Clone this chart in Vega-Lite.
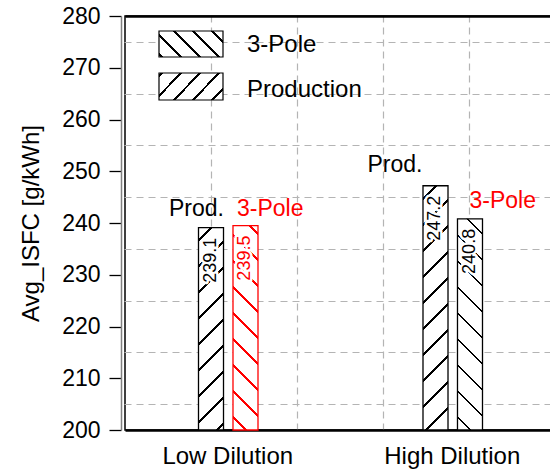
{
  "$schema": "https://vega.github.io/schema/vega-lite/v6.json",
  "width": 426,
  "height": 414,
  "autosize": {"type": "none"},
  "padding": {"left": 125, "top": 16, "right": 0, "bottom": 42},
  "config": {
    "view": {"stroke": "black", "strokeWidth": 1.5},
    "font": "Liberation Sans"
  },
  "data": {
    "values": [
      {"cat": "Low Dilution", "series": "Production", "value": 239.1},
      {"cat": "Low Dilution", "series": "3-Pole", "value": 239.5},
      {"cat": "High Dilution", "series": "Production", "value": 247.2},
      {"cat": "High Dilution", "series": "3-Pole", "value": 240.8}
    ]
  },
  "layer": [
    {
      "layer": [
        {
          "mark": {"type": "point", "opacity": 0},
          "encoding": {
            "x": {
              "field": "value",
              "type": "quantitative",
              "title": null,
              "scale": {"domain": [0, 5], "range": [0, 430], "nice": false, "zero": false},
              "axis": {
                "orient": "top",
                "values": [1, 2, 3, 4],
                "grid": true,
                "gridDash": [7, 5],
                "gridColor": "#b4b4b4",
                "gridWidth": 1.2,
                "labels": false,
                "ticks": false,
                "domain": true,
                "domainColor": "black",
                "domainWidth": 2.5,
                "title": null
              }
            },
            "y": {
              "field": "value",
              "type": "quantitative",
              "title": null,
              "scale": {"domain": [200, 280], "nice": false, "zero": false},
              "axis": {
                "orient": "right",
                "values": [205, 210, 215, 220, 225, 230, 235, 240, 245, 250, 255, 260, 265, 270, 275],
                "grid": true,
                "gridDash": [7, 5],
                "gridColor": "#b4b4b4",
                "gridWidth": 1.2,
                "labels": false,
                "ticks": false,
                "domain": false,
                "title": null
              }
            }
          }
        },
        {
          "transform": [{"filter": "datum.cat === 'Low Dilution' && datum.series === '3-Pole'"}],
          "mark": {"type": "rect", "stroke": "black", "strokeWidth": 1.2,
            "fill": {"gradient": "linear", "x1": 0, "y1": 1, "x2": 1.207, "y2": 0.5096, "stops": [{"offset":0,"color":"white"},{"offset":0.0178,"color":"white"},{"offset":0.0178,"color":"black"},{"offset":0.0489,"color":"black"},{"offset":0.0489,"color":"white"},{"offset":0.2289,"color":"white"},{"offset":0.2289,"color":"black"},{"offset":0.26,"color":"black"},{"offset":0.26,"color":"white"},{"offset":0.44,"color":"white"},{"offset":0.44,"color":"black"},{"offset":0.4711,"color":"black"},{"offset":0.4711,"color":"white"},{"offset":0.6511,"color":"white"},{"offset":0.6511,"color":"black"},{"offset":0.6822,"color":"black"},{"offset":0.6822,"color":"white"},{"offset":0.8622,"color":"white"},{"offset":0.8622,"color":"black"},{"offset":0.8933,"color":"black"},{"offset":0.8933,"color":"white"},{"offset":1,"color":"white"}]}},
          "encoding": {
            "x": {"datum": 0.3953, "title": null},
            "x2": {"datum": 1.1395},
            "y": {"datum": 277.1, "title": null},
            "y2": {"datum": 272.08}
          }
        },
        {
          "transform": [{"filter": "datum.cat === 'Low Dilution' && datum.series === 'Production'"}],
          "mark": {"type": "rect", "stroke": "black", "strokeWidth": 1.2,
            "fill": {"gradient": "linear", "x1": 0, "y1": 0, "x2": 1.207, "y2": 0.4904, "stops": [{"offset":0,"color":"white"},{"offset":0.0178,"color":"white"},{"offset":0.0178,"color":"black"},{"offset":0.0489,"color":"black"},{"offset":0.0489,"color":"white"},{"offset":0.2289,"color":"white"},{"offset":0.2289,"color":"black"},{"offset":0.26,"color":"black"},{"offset":0.26,"color":"white"},{"offset":0.44,"color":"white"},{"offset":0.44,"color":"black"},{"offset":0.4711,"color":"black"},{"offset":0.4711,"color":"white"},{"offset":0.6511,"color":"white"},{"offset":0.6511,"color":"black"},{"offset":0.6822,"color":"black"},{"offset":0.6822,"color":"white"},{"offset":0.8622,"color":"white"},{"offset":0.8622,"color":"black"},{"offset":0.8933,"color":"black"},{"offset":0.8933,"color":"white"},{"offset":1,"color":"white"}]}},
          "encoding": {
            "x": {"datum": 0.3953, "title": null},
            "x2": {"datum": 1.1395},
            "y": {"datum": 268.99, "title": null},
            "y2": {"datum": 263.77}
          }
        },
        {
          "transform": [{"filter": "datum.cat === 'Low Dilution' && datum.series === '3-Pole'"}],
          "mark": {"type": "text", "align": "left", "baseline": "alphabetic", "fontSize": 24, "font": "Liberation Sans", "fill": "black"},
          "encoding": {
            "x": {"datum": 1.4186, "title": null},
            "y": {"datum": 273.04, "title": null},
            "text": {"field": "series"}
          }
        },
        {
          "transform": [{"filter": "datum.cat === 'Low Dilution' && datum.series === 'Production'"}],
          "mark": {"type": "text", "align": "left", "baseline": "alphabetic", "fontSize": 24, "font": "Liberation Sans", "fill": "black"},
          "encoding": {
            "x": {"datum": 1.4186, "title": null},
            "y": {"datum": 264.35, "title": null},
            "text": {"field": "series"}
          }
        }
      ]
    },
    {
      "encoding": {
        "x": {
          "field": "cat",
          "type": "nominal",
          "sort": ["Low Dilution", "High Dilution"],
          "scale": {"domain": ["Low Dilution", "High Dilution"], "range": [0, 430], "paddingInner": 0.0846, "paddingOuter": 0},
          "axis": {
            "orient": "bottom",
            "title": null,
            "ticks": false,
            "grid": false,
            "domainColor": "black",
            "domainWidth": 2.5,
            "labelFont": "Liberation Sans",
            "labelFontSize": 24,
            "labelColor": "black",
            "labelPadding": 14,
            "labelAngle": 0
          }
        },
        "xOffset": {
          "field": "series",
          "type": "nominal",
          "scale": {"domain": ["Production", "3-Pole"], "range": [73.5, 133], "paddingInner": 0.275, "paddingOuter": 0}
        },
        "y": {
          "field": "value",
          "type": "quantitative",
          "stack": null,
          "title": "Avg_ISFC [g/kWh]",
          "scale": {"domain": [200, 280], "nice": false, "zero": false},
          "axis": {
            "orient": "left",
            "values": [200, 210, 220, 230, 240, 250, 260, 270, 280],
            "offset": 4,
            "grid": false,
            "domainColor": "#808080",
            "domainWidth": 1.5,
            "tickSize": 12,
            "tickWidth": 1.3,
            "tickColor": "black",
            "labelFont": "Liberation Sans",
            "labelFontSize": 23,
            "labelColor": "black",
            "labelPadding": 9,
            "labelOverlap": false,
            "labelFlush": false,
            "titleFont": "Liberation Sans",
            "titleFontSize": 24,
            "titleFontWeight": "normal",
            "titleColor": "black",
            "titlePadding": 18
          }
        }
      },
      "layer": [
        {
          "transform": [{"filter": "datum.cat === 'Low Dilution' && datum.series === 'Production'"}],
          "mark": {"type": "bar", "stroke": "black", "strokeWidth": 1.3,
            "fill": {"gradient": "linear", "x1": 0, "y1": 0, "x2": 0.1685, "y2": 1.3633, "stops": [{"offset":0,"color":"white"},{"offset":0.0414,"color":"white"},{"offset":0.0414,"color":"black"},{"offset":0.0514,"color":"black"},{"offset":0.0514,"color":"white"},{"offset":0.1343,"color":"white"},{"offset":0.1343,"color":"black"},{"offset":0.1443,"color":"black"},{"offset":0.1443,"color":"white"},{"offset":0.2271,"color":"white"},{"offset":0.2271,"color":"black"},{"offset":0.2371,"color":"black"},{"offset":0.2371,"color":"white"},{"offset":0.32,"color":"white"},{"offset":0.32,"color":"black"},{"offset":0.33,"color":"black"},{"offset":0.33,"color":"white"},{"offset":0.4129,"color":"white"},{"offset":0.4129,"color":"black"},{"offset":0.4229,"color":"black"},{"offset":0.4229,"color":"white"},{"offset":0.5057,"color":"white"},{"offset":0.5057,"color":"black"},{"offset":0.5157,"color":"black"},{"offset":0.5157,"color":"white"},{"offset":0.5986,"color":"white"},{"offset":0.5986,"color":"black"},{"offset":0.6086,"color":"black"},{"offset":0.6086,"color":"white"},{"offset":0.6914,"color":"white"},{"offset":0.6914,"color":"black"},{"offset":0.7014,"color":"black"},{"offset":0.7014,"color":"white"},{"offset":0.7843,"color":"white"},{"offset":0.7843,"color":"black"},{"offset":0.7943,"color":"black"},{"offset":0.7943,"color":"white"},{"offset":0.8771,"color":"white"},{"offset":0.8771,"color":"black"},{"offset":0.8871,"color":"black"},{"offset":0.8871,"color":"white"},{"offset":0.97,"color":"white"},{"offset":0.97,"color":"black"},{"offset":0.98,"color":"black"},{"offset":0.98,"color":"white"},{"offset":1,"color":"white"}]}},
          "encoding": {"y2": {"datum": 200}}
        },
        {
          "transform": [{"filter": "datum.cat === 'Low Dilution' && datum.series === '3-Pole'"}],
          "mark": {"type": "bar", "stroke": "red", "strokeWidth": 1.3,
            "fill": {"gradient": "linear", "x1": 0, "y1": 1, "x2": 0.1651, "y2": -0.3497, "stops": [{"offset":0,"color":"white"},{"offset":0.0414,"color":"white"},{"offset":0.0414,"color":"red"},{"offset":0.0514,"color":"red"},{"offset":0.0514,"color":"white"},{"offset":0.1343,"color":"white"},{"offset":0.1343,"color":"red"},{"offset":0.1443,"color":"red"},{"offset":0.1443,"color":"white"},{"offset":0.2271,"color":"white"},{"offset":0.2271,"color":"red"},{"offset":0.2371,"color":"red"},{"offset":0.2371,"color":"white"},{"offset":0.32,"color":"white"},{"offset":0.32,"color":"red"},{"offset":0.33,"color":"red"},{"offset":0.33,"color":"white"},{"offset":0.4129,"color":"white"},{"offset":0.4129,"color":"red"},{"offset":0.4229,"color":"red"},{"offset":0.4229,"color":"white"},{"offset":0.5057,"color":"white"},{"offset":0.5057,"color":"red"},{"offset":0.5157,"color":"red"},{"offset":0.5157,"color":"white"},{"offset":0.5986,"color":"white"},{"offset":0.5986,"color":"red"},{"offset":0.6086,"color":"red"},{"offset":0.6086,"color":"white"},{"offset":0.6914,"color":"white"},{"offset":0.6914,"color":"red"},{"offset":0.7014,"color":"red"},{"offset":0.7014,"color":"white"},{"offset":0.7843,"color":"white"},{"offset":0.7843,"color":"red"},{"offset":0.7943,"color":"red"},{"offset":0.7943,"color":"white"},{"offset":0.8771,"color":"white"},{"offset":0.8771,"color":"red"},{"offset":0.8871,"color":"red"},{"offset":0.8871,"color":"white"},{"offset":0.97,"color":"white"},{"offset":0.97,"color":"red"},{"offset":0.98,"color":"red"},{"offset":0.98,"color":"white"},{"offset":1,"color":"white"}]}},
          "encoding": {"y2": {"datum": 200}}
        },
        {
          "transform": [{"filter": "datum.cat === 'High Dilution' && datum.series === 'Production'"}],
          "mark": {"type": "bar", "stroke": "black", "strokeWidth": 1.3,
            "fill": {"gradient": "linear", "x1": 0, "y1": 0, "x2": 0.1161, "y2": 1.1343, "stops": [{"offset":0,"color":"white"},{"offset":0.0414,"color":"white"},{"offset":0.0414,"color":"black"},{"offset":0.0514,"color":"black"},{"offset":0.0514,"color":"white"},{"offset":0.1343,"color":"white"},{"offset":0.1343,"color":"black"},{"offset":0.1443,"color":"black"},{"offset":0.1443,"color":"white"},{"offset":0.2271,"color":"white"},{"offset":0.2271,"color":"black"},{"offset":0.2371,"color":"black"},{"offset":0.2371,"color":"white"},{"offset":0.32,"color":"white"},{"offset":0.32,"color":"black"},{"offset":0.33,"color":"black"},{"offset":0.33,"color":"white"},{"offset":0.4129,"color":"white"},{"offset":0.4129,"color":"black"},{"offset":0.4229,"color":"black"},{"offset":0.4229,"color":"white"},{"offset":0.5057,"color":"white"},{"offset":0.5057,"color":"black"},{"offset":0.5157,"color":"black"},{"offset":0.5157,"color":"white"},{"offset":0.5986,"color":"white"},{"offset":0.5986,"color":"black"},{"offset":0.6086,"color":"black"},{"offset":0.6086,"color":"white"},{"offset":0.6914,"color":"white"},{"offset":0.6914,"color":"black"},{"offset":0.7014,"color":"black"},{"offset":0.7014,"color":"white"},{"offset":0.7843,"color":"white"},{"offset":0.7843,"color":"black"},{"offset":0.7943,"color":"black"},{"offset":0.7943,"color":"white"},{"offset":0.8771,"color":"white"},{"offset":0.8771,"color":"black"},{"offset":0.8871,"color":"black"},{"offset":0.8871,"color":"white"},{"offset":0.97,"color":"white"},{"offset":0.97,"color":"black"},{"offset":0.98,"color":"black"},{"offset":0.98,"color":"white"},{"offset":1,"color":"white"}]}},
          "encoding": {"y2": {"datum": 200}}
        },
        {
          "transform": [{"filter": "datum.cat === 'High Dilution' && datum.series === '3-Pole'"}],
          "mark": {"type": "bar", "stroke": "black", "strokeWidth": 1.3,
            "fill": {"gradient": "linear", "x1": 0, "y1": 1, "x2": 0.1549, "y2": -0.308, "stops": [{"offset":0,"color":"white"},{"offset":0.0414,"color":"white"},{"offset":0.0414,"color":"black"},{"offset":0.0514,"color":"black"},{"offset":0.0514,"color":"white"},{"offset":0.1343,"color":"white"},{"offset":0.1343,"color":"black"},{"offset":0.1443,"color":"black"},{"offset":0.1443,"color":"white"},{"offset":0.2271,"color":"white"},{"offset":0.2271,"color":"black"},{"offset":0.2371,"color":"black"},{"offset":0.2371,"color":"white"},{"offset":0.32,"color":"white"},{"offset":0.32,"color":"black"},{"offset":0.33,"color":"black"},{"offset":0.33,"color":"white"},{"offset":0.4129,"color":"white"},{"offset":0.4129,"color":"black"},{"offset":0.4229,"color":"black"},{"offset":0.4229,"color":"white"},{"offset":0.5057,"color":"white"},{"offset":0.5057,"color":"black"},{"offset":0.5157,"color":"black"},{"offset":0.5157,"color":"white"},{"offset":0.5986,"color":"white"},{"offset":0.5986,"color":"black"},{"offset":0.6086,"color":"black"},{"offset":0.6086,"color":"white"},{"offset":0.6914,"color":"white"},{"offset":0.6914,"color":"black"},{"offset":0.7014,"color":"black"},{"offset":0.7014,"color":"white"},{"offset":0.7843,"color":"white"},{"offset":0.7843,"color":"black"},{"offset":0.7943,"color":"black"},{"offset":0.7943,"color":"white"},{"offset":0.8771,"color":"white"},{"offset":0.8771,"color":"black"},{"offset":0.8871,"color":"black"},{"offset":0.8871,"color":"white"},{"offset":0.97,"color":"white"},{"offset":0.97,"color":"black"},{"offset":0.98,"color":"black"},{"offset":0.98,"color":"white"},{"offset":1,"color":"white"}]}},
          "encoding": {"y2": {"datum": 200}}
        },
        {
          "mark": {"type": "text", "angle": 270, "align": "right", "baseline": "middle", "dx": -10, "fontSize": 18, "font": "Liberation Sans", "fill": "white", "stroke": "white", "strokeWidth": 5, "strokeJoin": "round"},
          "encoding": {"text": {"field": "value", "type": "quantitative", "format": ".1f"}}
        },
        {
          "transform": [{"filter": "!(datum.cat === 'Low Dilution' && datum.series === '3-Pole')"}],
          "mark": {"type": "text", "angle": 270, "align": "right", "baseline": "middle", "dx": -10, "fontSize": 18, "font": "Liberation Sans", "fill": "black"},
          "encoding": {"text": {"field": "value", "type": "quantitative", "format": ".1f"}}
        },
        {
          "transform": [{"filter": "datum.cat === 'Low Dilution' && datum.series === '3-Pole'"}],
          "mark": {"type": "text", "angle": 270, "align": "right", "baseline": "middle", "dx": -10, "fontSize": 18, "font": "Liberation Sans", "fill": "red"},
          "encoding": {"text": {"field": "value", "type": "quantitative", "format": ".1f"}}
        },
        {
          "transform": [{"filter": "datum.cat === 'Low Dilution' && datum.series === 'Production'"}],
          "mark": {"type": "text", "text": "Prod.", "align": "right", "baseline": "alphabetic", "dx": 13, "dy": -11.7, "fontSize": 23, "font": "Liberation Sans", "fill": "black"},
          "encoding": {}
        },
        {
          "transform": [{"filter": "datum.cat === 'Low Dilution' && datum.series === '3-Pole'"}],
          "mark": {"type": "text", "text": "3-Pole", "align": "left", "baseline": "alphabetic", "dx": -8.5, "dy": -9.6, "fontSize": 23, "font": "Liberation Sans", "fill": "red"},
          "encoding": {}
        },
        {
          "transform": [{"filter": "datum.cat === 'High Dilution' && datum.series === 'Production'"}],
          "mark": {"type": "text", "text": "Prod.", "align": "right", "baseline": "alphabetic", "dx": -13, "dy": -13.4, "fontSize": 23, "font": "Liberation Sans", "fill": "black"},
          "encoding": {}
        },
        {
          "transform": [{"filter": "datum.cat === 'High Dilution' && datum.series === '3-Pole'"}],
          "mark": {"type": "text", "text": "3-Pole", "align": "left", "baseline": "alphabetic", "dx": -0.5, "dy": -11.2, "fontSize": 23, "font": "Liberation Sans", "fill": "red"},
          "encoding": {}
        }
      ]
    }
  ],
  "resolve": {"scale": {"x": "independent", "y": "independent"}, "axis": {"x": "independent", "y": "independent"}}
}
